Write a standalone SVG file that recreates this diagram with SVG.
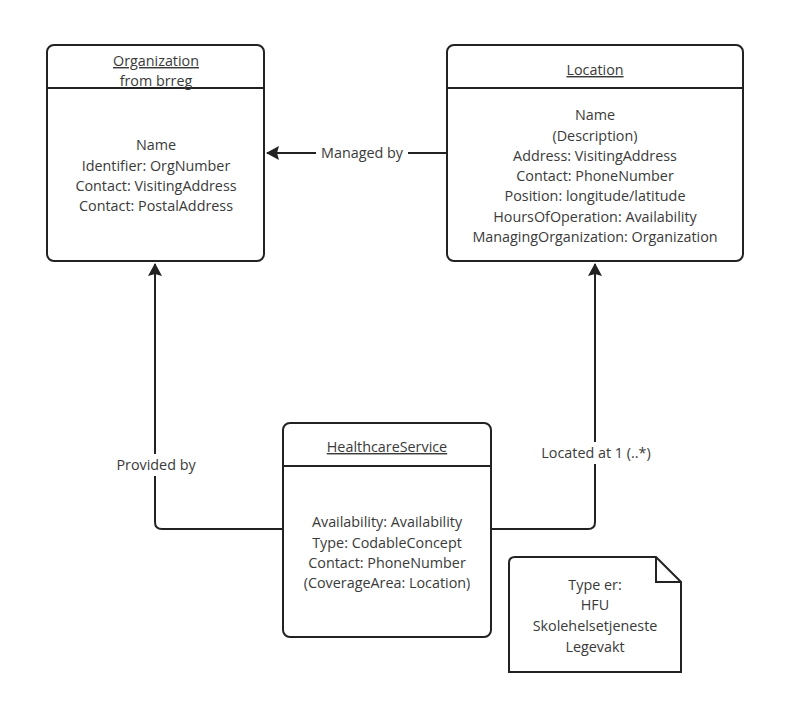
<svg xmlns="http://www.w3.org/2000/svg" width="802" height="702" viewBox="0 0 802 702">
<style>
.box{fill:#fff;stroke:#222;stroke-width:2}
.div{stroke:#222;stroke-width:2}
.t{font-family:"Open Sans","Liberation Sans",sans-serif;font-size:14.35px;fill:#3a3a3a;text-anchor:middle}
.u{text-decoration:underline}
.c{fill:none;stroke:#222;stroke-width:2}
.bg{fill:#fff}
</style>
<defs>
<marker id="ah" markerWidth="14" markerHeight="14" refX="12" refY="7" orient="auto" markerUnits="userSpaceOnUse">
<path d="M0,0 L13,7 L0,14 L2,7 z" fill="#222"/>
</marker>
</defs>
<rect width="802" height="702" fill="#fff"/>
<g id="connectors">
<path class="c" d="M447,153 L267,153" marker-end="url(#ah)"/>
<rect class="bg" x="316" y="142" width="92" height="22"/>
<text class="t" x="362" y="158">Managed by</text>
<path class="c" d="M283,529 L162,529 Q155,529 155,522 L155,264" marker-end="url(#ah)"/>
<rect class="bg" x="113" y="454" width="86" height="22"/>
<text class="t" x="156" y="470">Provided by</text>
<path class="c" d="M491,529 L588,529 Q595,529 595,522 L595,264" marker-end="url(#ah)"/>
<rect class="bg" x="535" y="442" width="122" height="22"/>
<text class="t" x="596" y="458">Located at 1 (..*)</text>
</g>
<g id="organization">
<rect class="box" x="47" y="45" width="217" height="216" rx="7"/>
<line class="div" x1="47" y1="88" x2="264" y2="88"/>
<text class="t u" x="156" y="66">Organization</text>
<text class="t" x="156" y="86">from brreg</text>
<text class="t" x="156" y="150">Name</text>
<text class="t" x="156" y="171">Identifier: OrgNumber</text>
<text class="t" x="156" y="191">Contact: VisitingAddress</text>
<text class="t" x="156" y="211">Contact: PostalAddress</text>
</g>
<g id="location">
<rect class="box" x="447" y="45" width="296" height="216" rx="7"/>
<line class="div" x1="447" y1="88" x2="743" y2="88"/>
<text class="t u" x="595" y="75">Location</text>
<text class="t" x="595" y="120">Name</text>
<text class="t" x="595" y="141">(Description)</text>
<text class="t" x="595" y="161">Address: VisitingAddress</text>
<text class="t" x="595" y="181">Contact: PhoneNumber</text>
<text class="t" x="595" y="201">Position: longitude/latitude</text>
<text class="t" x="595" y="222">HoursOfOperation: Availability</text>
<text class="t" x="595" y="242">ManagingOrganization: Organization</text>
</g>
<g id="healthcareservice">
<rect class="box" x="283" y="423" width="208" height="214" rx="7"/>
<line class="div" x1="283" y1="466" x2="491" y2="466"/>
<text class="t u" x="387" y="452">HealthcareService</text>
<text class="t" x="387" y="527">Availability: Availability</text>
<text class="t" x="387" y="548">Type: CodableConcept</text>
<text class="t" x="387" y="568">Contact: PhoneNumber</text>
<text class="t" x="387" y="588">(CoverageArea: Location)</text>
</g>
<g id="note">
<path class="box" d="M515,557 L656,557 L681,582 L681,672 L509,672 L509,563 Q509,557 515,557 z"/>
<path class="c" d="M656,557 L656,582 L681,582"/>
<text class="t" x="595" y="590">Type er:</text>
<text class="t" x="595" y="610">HFU</text>
<text class="t" x="595" y="631">Skolehelsetjeneste</text>
<text class="t" x="595" y="652">Legevakt</text>
</g>
</svg>
